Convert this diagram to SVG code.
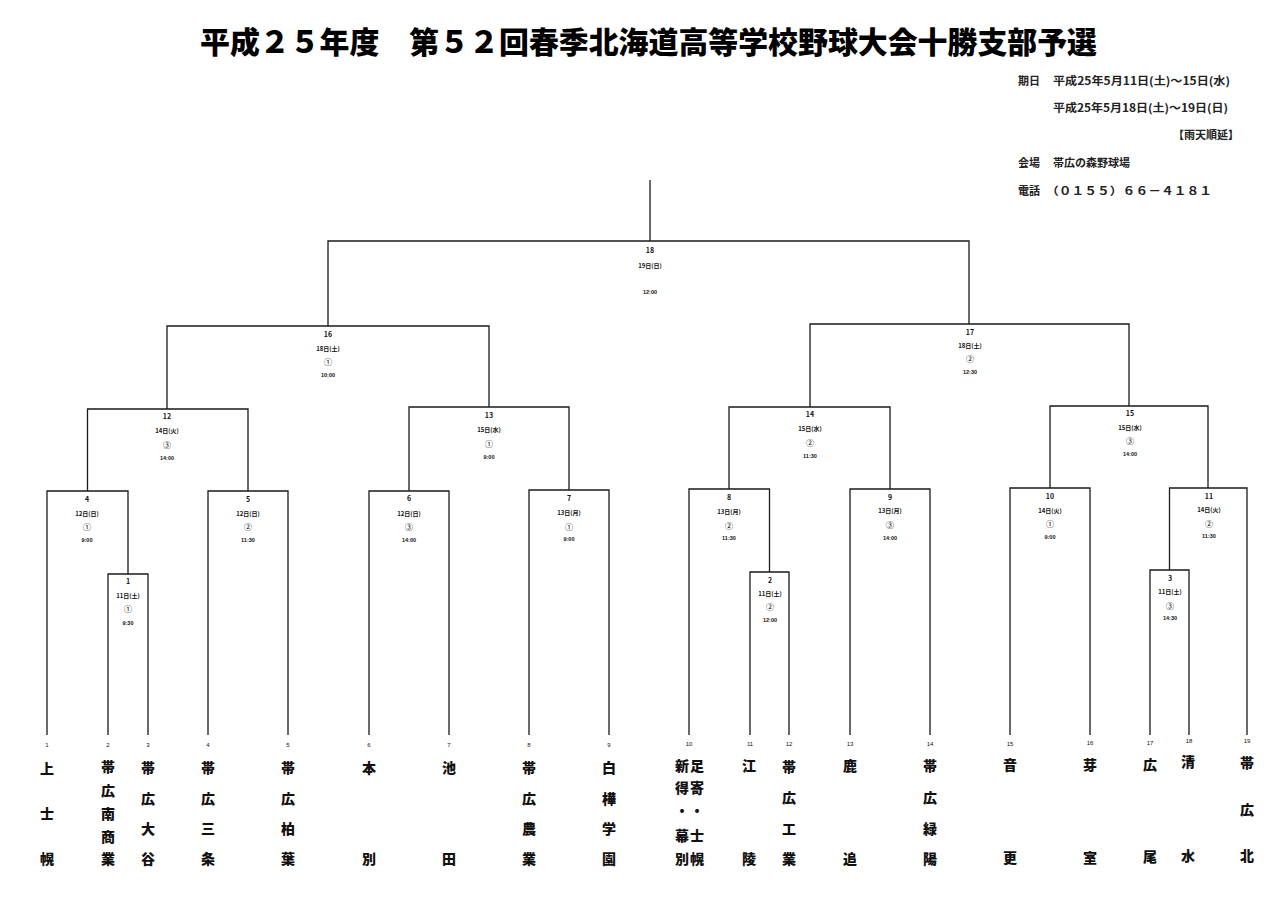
<svg xmlns="http://www.w3.org/2000/svg" width="1280" height="898" viewBox="0 0 1280 898">
<style>
.ln{stroke:#1a1a1a;stroke-width:1.3;fill:none}
.t{font-family:"Noto Sans CJK JP","Liberation Sans",sans-serif;fill:#111;text-anchor:middle;dominant-baseline:central}
.mn{font-size:7px;font-weight:bold}
.md{font-size:6px;font-weight:bold}
.mc{font-size:8px;fill:#000}
.mt{font-size:5.5px;font-weight:bold;font-family:"Liberation Sans",sans-serif}
.num{font-size:6px;font-family:"Liberation Sans",sans-serif}
.tm{font-size:14px;font-weight:900}
.hd{font-family:"Noto Sans CJK JP",sans-serif;font-weight:900;font-size:30px;fill:#000}
.inf{font-family:"Noto Sans CJK JP",sans-serif;font-size:11px;font-weight:bold;fill:#222}
</style>
<rect width="1280" height="898" fill="#fff"/>
<text class="hd" x="200" y="53" textLength="897" lengthAdjust="spacingAndGlyphs">平成２５年度　第５２回春季北海道高等学校野球大会十勝支部予選</text>
<g id="info">
<text class="inf" x="1018" y="85">期日</text>
<text class="inf" x="1053" y="85" textLength="177" lengthAdjust="spacingAndGlyphs">平成25年5月11日(土)～15日(水)</text>
<text class="inf" x="1053" y="112" textLength="175" lengthAdjust="spacingAndGlyphs">平成25年5月18日(土)～19日(日)</text>
<text class="inf" x="1239" y="139" text-anchor="end">【雨天順延】</text>
<text class="inf" x="1018" y="167">会場</text>
<text class="inf" x="1053" y="167">帯広の森野球場</text>
<text class="inf" x="1018" y="195">電話</text>
<text class="inf" x="1046" y="195" textLength="166" lengthAdjust="spacingAndGlyphs">（０１５５）６６－４１８１</text>
</g>
<g id="connectors">
<path class="ln" d="M650,180V241"/>
<path class="ln" d="M328,326V241H969V324"/>
<path class="ln" d="M167,409V326H489V407"/>
<path class="ln" d="M810,407V324H1129V406"/>
<path class="ln" d="M87.5,491V409H248V491"/>
<path class="ln" d="M409,491V407H569V490"/>
<path class="ln" d="M729,489V407H890V489"/>
<path class="ln" d="M1050,488V406H1208V488"/>
<path class="ln" d="M47,735V491H128V574"/>
<path class="ln" d="M208,735V491H288V735"/>
<path class="ln" d="M369,735V491H449V735"/>
<path class="ln" d="M529,735V490H609V735"/>
<path class="ln" d="M689,735V489H769.5V572"/>
<path class="ln" d="M850,735V489H930V735"/>
<path class="ln" d="M1010,735V488H1090V735"/>
<path class="ln" d="M1169.5,570V488H1247V735"/>
<path class="ln" d="M108,735V574H148V735"/>
<path class="ln" d="M750,735V572H789V735"/>
<path class="ln" d="M1150,735V570H1189V735"/>
</g>
<g id="m18"><text class="t mn" x="650" y="250">18</text><text class="t md" x="650" y="265">19日(日)</text><text class="t mt" x="650" y="292">12:00</text></g>
<g id="m16"><text class="t mn" x="328" y="334">16</text><text class="t md" x="328" y="348">18日(土)</text><text class="t mc" x="328" y="361">①</text><text class="t mt" x="328" y="375">10:00</text></g>
<g id="m17"><text class="t mn" x="970" y="332">17</text><text class="t md" x="970" y="345">18日(土)</text><text class="t mc" x="970" y="358">②</text><text class="t mt" x="970" y="372">12:30</text></g>
<g id="m12"><text class="t mn" x="167" y="416">12</text><text class="t md" x="167" y="430">14日(火)</text><text class="t mc" x="167" y="444">③</text><text class="t mt" x="167" y="458">14:00</text></g>
<g id="m13"><text class="t mn" x="489" y="415">13</text><text class="t md" x="489" y="429">15日(水)</text><text class="t mc" x="489" y="443">①</text><text class="t mt" x="489" y="457">9:00</text></g>
<g id="m14"><text class="t mn" x="810" y="414">14</text><text class="t md" x="810" y="428">15日(水)</text><text class="t mc" x="810" y="442">②</text><text class="t mt" x="810" y="456">11:30</text></g>
<g id="m15"><text class="t mn" x="1130" y="413">15</text><text class="t md" x="1130" y="427">15日(水)</text><text class="t mc" x="1130" y="440">③</text><text class="t mt" x="1130" y="454">14:00</text></g>
<g id="m4"><text class="t mn" x="87" y="499">4</text><text class="t md" x="87" y="513">12日(日)</text><text class="t mc" x="87" y="526">①</text><text class="t mt" x="87" y="540">9:00</text></g>
<g id="m5"><text class="t mn" x="248" y="499">5</text><text class="t md" x="248" y="513">12日(日)</text><text class="t mc" x="248" y="526">②</text><text class="t mt" x="248" y="540">11:30</text></g>
<g id="m6"><text class="t mn" x="409" y="498">6</text><text class="t md" x="409" y="513">12日(日)</text><text class="t mc" x="409" y="526">③</text><text class="t mt" x="409" y="540">14:00</text></g>
<g id="m7"><text class="t mn" x="569" y="498">7</text><text class="t md" x="569" y="512">13日(月)</text><text class="t mc" x="569" y="526">①</text><text class="t mt" x="569" y="539">9:00</text></g>
<g id="m8"><text class="t mn" x="729" y="497">8</text><text class="t md" x="729" y="511">13日(月)</text><text class="t mc" x="729" y="525">②</text><text class="t mt" x="729" y="538">11:30</text></g>
<g id="m9"><text class="t mn" x="890" y="497">9</text><text class="t md" x="890" y="510">13日(月)</text><text class="t mc" x="890" y="524">③</text><text class="t mt" x="890" y="538">14:00</text></g>
<g id="m10"><text class="t mn" x="1050" y="496">10</text><text class="t md" x="1050" y="510">14日(火)</text><text class="t mc" x="1050" y="523">①</text><text class="t mt" x="1050" y="537">9:00</text></g>
<g id="m11"><text class="t mn" x="1209" y="496">11</text><text class="t md" x="1209" y="509">14日(火)</text><text class="t mc" x="1209" y="523">②</text><text class="t mt" x="1209" y="536">11:30</text></g>
<g id="m1"><text class="t mn" x="128" y="581">1</text><text class="t md" x="128" y="595">11日(土)</text><text class="t mc" x="128" y="608">①</text><text class="t mt" x="128" y="623">9:30</text></g>
<g id="m2"><text class="t mn" x="770" y="580">2</text><text class="t md" x="770" y="593">11日(土)</text><text class="t mc" x="770" y="606">②</text><text class="t mt" x="770" y="620">12:00</text></g>
<g id="m3"><text class="t mn" x="1170" y="578">3</text><text class="t md" x="1170" y="591">11日(土)</text><text class="t mc" x="1170" y="605">③</text><text class="t mt" x="1170" y="618">14:30</text></g>
<g id="team1"><text class="t num" x="47" y="745">1</text><text class="t tm" x="47" y="768">上</text><text class="t tm" x="47" y="813">士</text><text class="t tm" x="47" y="858">幌</text></g>
<g id="team2"><text class="t num" x="108" y="745">2</text><text class="t tm" x="108" y="766">帯</text><text class="t tm" x="108" y="790">広</text><text class="t tm" x="108" y="813">南</text><text class="t tm" x="108" y="836">商</text><text class="t tm" x="108" y="858">業</text></g>
<g id="team3"><text class="t num" x="148" y="745">3</text><text class="t tm" x="148" y="767">帯</text><text class="t tm" x="148" y="798">広</text><text class="t tm" x="148" y="828">大</text><text class="t tm" x="148" y="858">谷</text></g>
<g id="team4"><text class="t num" x="208" y="745">4</text><text class="t tm" x="208" y="767">帯</text><text class="t tm" x="208" y="798">広</text><text class="t tm" x="208" y="828">三</text><text class="t tm" x="208" y="858">条</text></g>
<g id="team5"><text class="t num" x="288" y="745">5</text><text class="t tm" x="288" y="767">帯</text><text class="t tm" x="288" y="798">広</text><text class="t tm" x="288" y="828">柏</text><text class="t tm" x="288" y="858">葉</text></g>
<g id="team6"><text class="t num" x="369" y="745">6</text><text class="t tm" x="369" y="767">本</text><text class="t tm" x="369" y="858">別</text></g>
<g id="team7"><text class="t num" x="449" y="745">7</text><text class="t tm" x="449" y="767">池</text><text class="t tm" x="449" y="858">田</text></g>
<g id="team8"><text class="t num" x="529" y="745">8</text><text class="t tm" x="529" y="767">帯</text><text class="t tm" x="529" y="798">広</text><text class="t tm" x="529" y="828">農</text><text class="t tm" x="529" y="858">業</text></g>
<g id="team9"><text class="t num" x="609" y="745">9</text><text class="t tm" x="609" y="767">白</text><text class="t tm" x="609" y="798">樺</text><text class="t tm" x="609" y="828">学</text><text class="t tm" x="609" y="858">園</text></g>
<g id="team10"><text class="t num" x="689" y="744">10</text>
<text class="t tm" x="682" y="765">新</text><text class="t tm" x="682" y="787">得</text><text class="t tm" x="682" y="810">・</text><text class="t tm" x="682" y="835">幕</text><text class="t tm" x="682" y="858">別</text>
<text class="t tm" x="697" y="765">足</text><text class="t tm" x="697" y="787">寄</text><text class="t tm" x="697" y="810">・</text><text class="t tm" x="697" y="835">士</text><text class="t tm" x="697" y="858">幌</text></g>
<g id="team11"><text class="t num" x="750" y="744">11</text><text class="t tm" x="749" y="765">江</text><text class="t tm" x="749" y="858">陵</text></g>
<g id="team12"><text class="t num" x="789" y="744">12</text><text class="t tm" x="789" y="766">帯</text><text class="t tm" x="789" y="797">広</text><text class="t tm" x="789" y="828">工</text><text class="t tm" x="789" y="858">業</text></g>
<g id="team13"><text class="t num" x="850" y="744">13</text><text class="t tm" x="850" y="765">鹿</text><text class="t tm" x="850" y="858">追</text></g>
<g id="team14"><text class="t num" x="930" y="744">14</text><text class="t tm" x="930" y="765">帯</text><text class="t tm" x="930" y="797">広</text><text class="t tm" x="930" y="828">緑</text><text class="t tm" x="930" y="858">陽</text></g>
<g id="team15"><text class="t num" x="1010" y="744">15</text><text class="t tm" x="1010" y="764">音</text><text class="t tm" x="1010" y="857">更</text></g>
<g id="team16"><text class="t num" x="1090" y="743">16</text><text class="t tm" x="1090" y="764">芽</text><text class="t tm" x="1090" y="857">室</text></g>
<g id="team17"><text class="t num" x="1150" y="743">17</text><text class="t tm" x="1150" y="764">広</text><text class="t tm" x="1150" y="856">尾</text></g>
<g id="team18"><text class="t num" x="1189" y="741">18</text><text class="t tm" x="1188" y="761">清</text><text class="t tm" x="1188" y="855">水</text></g>
<g id="team19"><text class="t num" x="1247" y="741">19</text><text class="t tm" x="1247" y="762">帯</text><text class="t tm" x="1247" y="809">広</text><text class="t tm" x="1247" y="855">北</text></g>
</svg>
